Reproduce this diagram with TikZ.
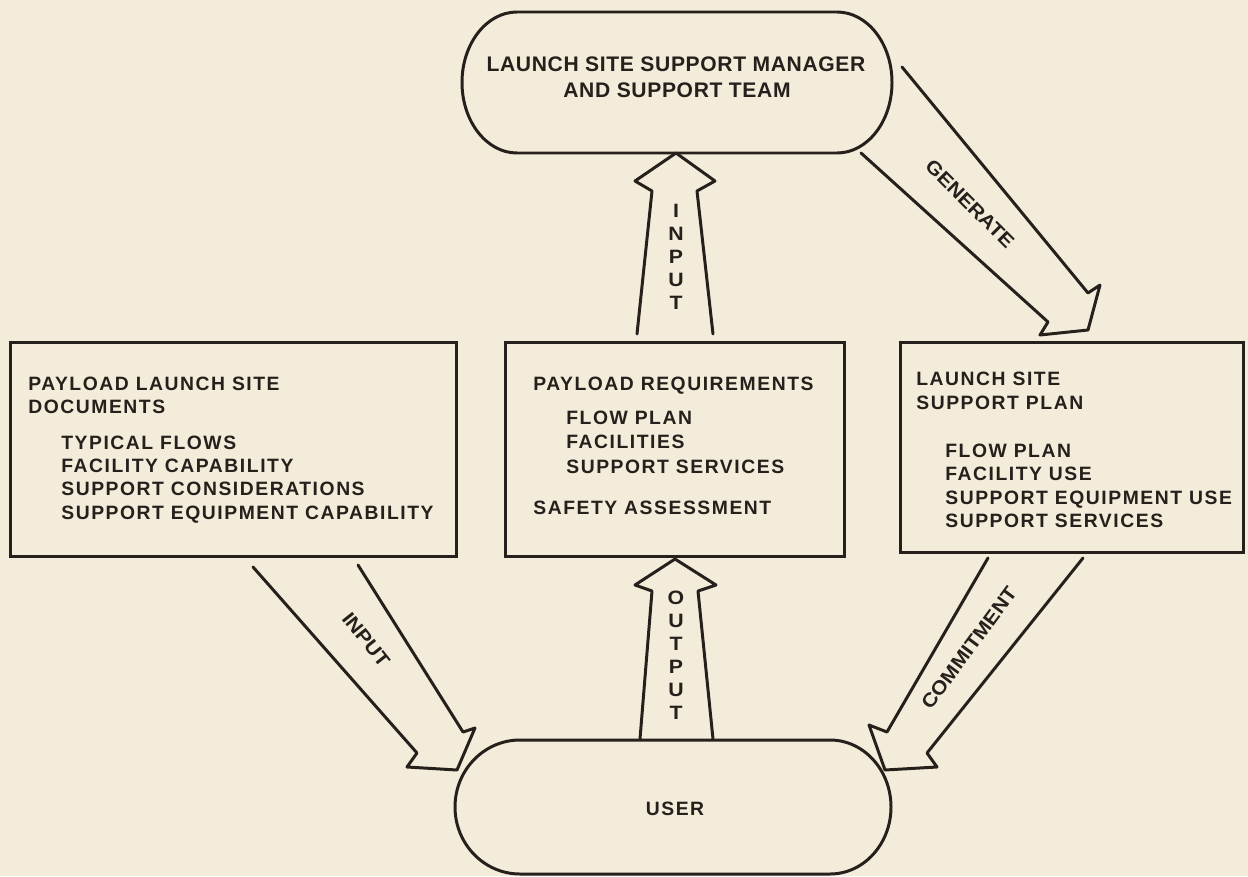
\documentclass[tikz,border=0pt]{standalone}
\usepackage{fontspec}
\newfontfamily\bodyfont{Liberation Sans}[LetterSpace=8]
\newfontfamily\headfont{Liberation Sans}[LetterSpace=3]
\newfontfamily\rotfont{Liberation Sans}[FakeStretch=1.1]
\definecolor{paper}{RGB}{244,236,218}
\definecolor{ink}{RGB}{38,32,28}
\tikzset{
  outline/.style={draw=ink, line width=1.7pt, line join=round, line cap=round},
  boxnode/.style={draw=ink, line width=1.7pt, rectangle, inner sep=0pt},
  txt/.style={text=ink, inner sep=0pt, font=\bodyfont\bfseries\fontsize{11}{13}\selectfont},
  rtxt/.style={text=ink, inner sep=0pt, font=\rotfont\bfseries\fontsize{11}{13}\selectfont},
  ttl/.style={text=ink, inner sep=0pt, font=\headfont\bfseries\fontsize{12}{14}\selectfont},
  vtxt/.style={text=ink, inner sep=0pt, align=center, font=\rotfont\bfseries\fontsize{11}{13.05}\selectfont}
}
\begin{document}
\begin{tikzpicture}[x=0.02cm,y=-0.02cm]
\fill[paper] (0,0) rectangle (1248,876);
\useasboundingbox (0,0) rectangle (1248,876);

% ---- top pill: support manager and team
\coordinate (team) at (677,82.5);
\draw[outline] (517,12) -- (837,12)
  arc[start angle=-90,end angle=90,x radius=55,y radius=70.5]
  -- (517,153)
  arc[start angle=90,end angle=270,x radius=55,y radius=70.5] -- cycle;
\node[ttl, anchor=base] (teamA) at (676,71) {LAUNCH SITE SUPPORT MANAGER};
\node[ttl, anchor=base] (teamB) at (677,97) {AND SUPPORT TEAM};

% ---- boxes
\node[boxnode, minimum width=8.94cm, minimum height=4.3cm] (docs) at (233.5,449.5) {};
\node[boxnode, minimum width=6.8cm, minimum height=4.3cm] (req) at (675,449.5) {};
\node[boxnode, minimum width=6.88cm, minimum height=4.22cm] (plan) at (1072,447.5) {};

% left box text
\node[txt, anchor=base west] (d1) at (28,390) {PAYLOAD LAUNCH SITE};
\node[txt, anchor=base west] (d2) at (28,413) {DOCUMENTS};
\node[txt, anchor=base west] (d3) at (61,449) {TYPICAL FLOWS};
\node[txt, anchor=base west] (d4) at (61,472) {FACILITY CAPABILITY};
\node[txt, anchor=base west] (d5) at (61,495) {SUPPORT CONSIDERATIONS};
\node[txt, anchor=base west] (d6) at (61,519) {SUPPORT EQUIPMENT CAPABILITY};

% middle box text
\node[txt, anchor=base west] (r1) at (533,390) {PAYLOAD REQUIREMENTS};
\node[txt, anchor=base west] (r2) at (566,424) {FLOW PLAN};
\node[txt, anchor=base west] (r3) at (566,448) {FACILITIES};
\node[txt, anchor=base west] (r4) at (566,473) {SUPPORT SERVICES};
\node[txt, anchor=base west] (r5) at (533,514) {SAFETY ASSESSMENT};

% right box text
\node[txt, anchor=base west] (p1) at (916,385) {LAUNCH SITE};
\node[txt, anchor=base west] (p2) at (916,409) {SUPPORT PLAN};
\node[txt, anchor=base west] (p3) at (945,457) {FLOW PLAN};
\node[txt, anchor=base west] (p4) at (945,480) {FACILITY USE};
\node[txt, anchor=base west] (p5) at (945,504) {SUPPORT EQUIPMENT USE};
\node[txt, anchor=base west] (p6) at (945,527) {SUPPORT SERVICES};

% ---- user pill
\draw[outline] (520,740) -- (830,740)
  arc[start angle=-90,end angle=90,x radius=61,y radius=67]
  -- (520,874)
  arc[start angle=90,end angle=270,x radius=65,y radius=67] -- cycle;
\node[txt, anchor=base] (user) at (675,815) {USER};

% ---- block arrows
% INPUT (requirements -> team)
\draw[outline] (637,334) -- (652,191) -- (635,181) -- (676,153) -- (715,181) -- (697,191) -- (713,334);
\node[vtxt] (lblin1) at (676,256.5) {I\\N\\P\\U\\T};

% OUTPUT (user -> requirements)
\draw[outline] (640,739) -- (652,591) -- (635,585) -- (675,559) -- (716,585) -- (698,591) -- (713,739);
\node[vtxt] (lblout) at (676,655) {O\\U\\T\\P\\U\\T};

% GENERATE (team -> plan)
\draw[outline] (902,67) -- (1088,293) -- (1100,285) -- (1088,330) -- (1040,335) -- (1048,322) -- (861,153);
\node[rtxt, rotate=-45] (lblgen) at (970,204) {GENERATE};

% INPUT (docs -> user)
\draw[outline] (253,567) -- (417,753) -- (407,767) -- (457,770) -- (475,728) -- (463,732) -- (358,565);
\node[rtxt, rotate=-51.5] (lblin2) at (366,640) {INPUT};

% COMMITMENT (plan -> user)
\draw[outline] (988,558) -- (887,732) -- (869,725) -- (885,770) -- (937,767) -- (927,753) -- (1083,558);
\node[rtxt, rotate=53.5] (lblcom) at (969,648) {COMMITMENT};
\end{tikzpicture}
\end{document}
